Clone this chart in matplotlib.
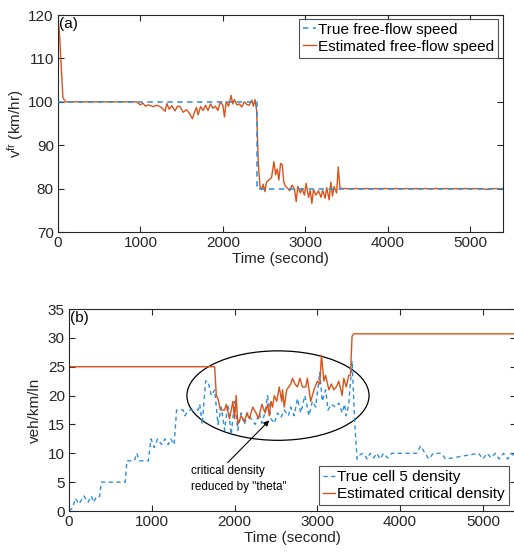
import matplotlib
matplotlib.use("Agg")
import matplotlib.pyplot as plt
from matplotlib.patches import Ellipse

plt.rcParams['font.family'] = ['Liberation Sans', 'DejaVu Sans']
plt.rcParams['mathtext.fontset'] = 'custom'
plt.rcParams['mathtext.rm'] = 'Liberation Sans'
plt.rcParams['mathtext.it'] = 'Liberation Sans'

# ---------------- Panel (a) data ----------------
true_vf_t = [0, 2420, 2420, 5400]
true_vf = [100, 100, 80, 80]

est_vf_t = [0, 20, 40, 60, 90, 150, 400, 700, 950, 1000, 1030, 1060, 1100, 1150, 1200, 1250,
            1300, 1320, 1350, 1380, 1420, 1450, 1480, 1520, 1560, 1600, 1630, 1660, 1680,
            1700, 1730, 1760, 1790, 1820, 1850, 1880, 1910, 1940, 1970, 2000, 2020, 2040,
            2070, 2100, 2120, 2140, 2170, 2200, 2230, 2260, 2290, 2320, 2350, 2370, 2390,
            2410, 2430, 2450, 2470, 2490, 2510, 2530, 2560, 2590, 2620, 2640, 2660, 2680,
            2700, 2720, 2740, 2760, 2790, 2810, 2840, 2870, 2890, 2910, 2940, 2960, 2990,
            3010, 3040, 3060, 3080, 3100, 3130, 3160, 3190, 3210, 3240, 3260, 3290, 3310,
            3330, 3350, 3380, 3400, 3420, 3450, 3500, 4500, 5150, 5200, 5250, 5400]
est_vf = [120, 115, 108, 101, 100, 100, 100, 100, 100, 99.3, 99.7, 99.0, 99.3, 98.9, 99.2, 98.8,
          97.8, 99.6, 98.3, 99.1, 97.9, 99.0, 98.9, 97.6, 98.2, 97.2, 96.1, 97.8, 98.7,
          97.0, 98.9, 98.0, 99.2, 98.0, 99.5, 98.5, 99.0, 98.0, 100.0, 99.2, 96.5, 100.0,
          99.0, 101.5, 99.5, 100.5, 99.3, 99.5, 98.8, 100.0, 99.4, 99.2, 100.4, 99.0, 100.5,
          98.0, 86.0, 80.5, 79.8, 81.0, 79.3, 81.5, 82.0, 82.5, 86.2, 83.2, 84.5, 82.0,
          85.8, 85.5, 81.5, 80.5, 80.0, 79.5, 80.8, 79.8, 77.0, 80.5, 79.0, 80.0, 78.5,
          81.2, 78.0, 79.6, 76.6, 79.8, 78.5, 79.5, 78.0, 79.6, 77.8, 80.2, 77.4, 81.5,
          78.3, 80.5, 79.0, 85.0, 80.2, 80.0, 80.0, 80.0, 80.0, 79.8, 80.0, 80.0]

# ---------------- Panel (b) data ----------------
true_k_t = [0, 40, 80, 120, 180, 230, 270, 300, 330, 370, 390, 680, 700, 790, 820, 850, 960,
            990, 1030, 1070, 1120, 1160, 1200, 1230, 1270, 1300, 1380, 1400, 1450, 1560,
            1580, 1610, 1650, 1680, 1720, 1760, 1800, 1840, 1880, 1920, 1960, 2000, 2040,
            2080, 2120, 2160, 2200, 2250, 2300, 2330, 2370, 2400, 2440, 2480, 2520, 2560,
            2600, 2650, 2680, 2720, 2760, 2800, 2850, 2900, 2940, 2980, 3030, 3060, 3100,
            3130, 3170, 3220, 3260, 3300, 3330, 3350, 3380, 3420, 3450, 3480, 3520, 3560,
            3600, 3640, 3680, 3720, 3760, 3800, 3850, 3900, 4000, 4100, 4200, 4250, 4300,
            4350, 4400, 4500, 4550, 4950, 5000, 5050, 5100, 5150, 5200, 5250, 5300, 5350, 5400]
true_k = [0, 0.5, 2.2, 1.2, 2.6, 1.5, 2.6, 1.5, 2.5, 2.5, 5.0, 5.0, 8.7, 8.7, 10.0, 8.7, 8.7,
          12.5, 11.0, 12.5, 11.5, 12.5, 11.5, 12.5, 11.5, 17.5, 17.5, 16.5, 17.5, 17.5,
          18.5, 15.0, 22.5, 22.5, 20.0, 21.0, 15.0, 18.0, 14.0, 18.5, 13.2, 19.0, 14.0,
          17.0, 15.0, 17.0, 16.0, 15.0, 17.0, 15.2, 17.2, 20.0, 16.0, 15.2, 17.0, 16.2,
          17.5, 16.5, 18.0, 16.5, 19.5, 17.0, 20.0, 16.5, 19.0, 18.0, 24.0, 19.0, 21.0,
          17.5, 18.5, 18.0, 18.7, 17.0, 18.5, 16.5, 18.5, 26.0, 16.0, 9.0, 9.8, 10.0,
          9.0, 10.0, 9.2, 10.0, 9.0, 10.0, 9.2, 10.0, 10.0, 10.0, 10.0, 11.3, 10.0,
          9.0, 10.0, 10.0, 9.0, 10.0, 9.0, 10.0, 9.2, 10.0, 9.0, 10.0, 9.0, 10.0, 9.0]

est_kc_t = [0, 1760, 1780, 1800, 1830, 1880, 1900, 1940, 1980, 2000, 2020, 2040, 2080, 2120,
            2150, 2180, 2220, 2260, 2290, 2330, 2370, 2400, 2420, 2440, 2460, 2480, 2510,
            2540, 2570, 2580, 2600, 2630, 2680, 2700, 2730, 2760, 2790, 2820, 2860, 2880,
            2920, 2960, 3000, 3030, 3050, 3080, 3100, 3140, 3170, 3200, 3230, 3260, 3300,
            3320, 3350, 3380, 3400, 3420, 3440, 5400]
est_kc = [25.0, 25.0, 20.0, 19.5, 17.5, 17.5, 18.5, 16.0, 19.0, 16.0, 20.0, 15.0, 16.5, 15.5,
          17.0, 16.0, 18.0, 17.0, 16.0, 18.5, 17.0, 18.5, 16.5, 19.0, 18.0, 20.0, 19.0,
          21.5, 19.0, 21.0, 18.0, 21.0, 22.0, 23.0, 22.0, 21.5, 23.0, 21.5, 21.5, 23.0,
          19.0, 21.0, 22.5, 22.0, 27.0, 22.5, 23.5, 21.0, 22.0, 21.0, 21.5, 22.5, 20.0,
          23.0, 21.5, 23.5, 23.5, 30.3, 30.7, 30.7]

blue = '#2F8FD6'
orange = '#D95319'

fig = plt.figure(figsize=(5.14, 5.54), dpi=100)

def style(ax):
    ax.tick_params(direction='in', top=True, right=True, length=4, width=0.8,
                   labelsize=11, colors='#262626', pad=3)
    for s in ax.spines.values():
        s.set_linewidth(0.8)
        s.set_color('#262626')

# ---- (a) ----
ax1 = fig.add_axes([0.1128, 0.5812, 0.866, 0.3917])
ax1.plot(est_vf_t, est_vf, color=orange, lw=1.0, label='Estimated free-flow speed', zorder=2)
ax1.plot(true_vf_t, true_vf, color=blue, lw=1.3, ls=(0, (3, 2.5)), label='True free-flow speed',
         zorder=3, alpha=0.85)
ax1.set_xlim(0, 5400)
ax1.set_ylim(70, 120)
ax1.set_xticks([0, 1000, 2000, 3000, 4000, 5000])
ax1.set_yticks([70, 80, 90, 100, 110, 120])
ax1.set_xlabel('Time (second)', fontsize=11, color='#262626', labelpad=1)
ax1.set_ylabel(r'v$^{\mathrm{fr}}$ (km/hr)', fontsize=11, color='#262626', labelpad=2)
ax1.text(0.003, 0.99, '(a)', transform=ax1.transAxes, fontsize=11, va='top', ha='left')
style(ax1)
h, l = ax1.get_legend_handles_labels()
leg1 = ax1.legend(h[::-1], l[::-1], loc='upper right', fontsize=11, frameon=True, fancybox=False,
                  edgecolor='#262626', handlelength=0.8, handletextpad=0.15, borderpad=0.25,
                  labelspacing=0.2, borderaxespad=0, bbox_to_anchor=(0.988, 0.982))
leg1.get_frame().set_linewidth(0.8)

# ---- (b) ----
ax2 = fig.add_axes([0.1342, 0.0776, 0.8696, 0.3646])
ax2.plot(true_k_t, true_k, color=blue, lw=1.0, ls=(0, (3, 2.5)), label='True cell 5 density')
ax2.plot(est_kc_t, est_kc, color=orange, lw=1.0, label='Estimated critical density')
ax2.set_xlim(0, 5400)
ax2.set_ylim(0, 35)
ax2.set_xticks([0, 1000, 2000, 3000, 4000, 5000])
ax2.set_yticks([0, 5, 10, 15, 20, 25, 30, 35])
ax2.set_xlabel('Time (second)', fontsize=11, color='#262626', labelpad=1)
ax2.set_ylabel('veh/km/ln', fontsize=11, color='#262626', labelpad=4)
ax2.text(0.003, 0.99, '(b)', transform=ax2.transAxes, fontsize=11, va='top', ha='left')
style(ax2)
ax2.add_patch(Ellipse((2525, 20.0), 2200, 15.5, fill=False, edgecolor='black', lw=0.9))
ax2.annotate('critical density\nreduced by "theta"', xy=(2420, 15.7), xytext=(1480, 7.9),
             fontsize=8.5, va='top', ha='left', linespacing=1.4,
             arrowprops=dict(arrowstyle='-|>', color='black', lw=0.8, mutation_scale=8,
                             shrinkA=0, shrinkB=0, relpos=(0.35, 1.0)))
leg2 = ax2.legend(loc='lower right', fontsize=11, frameon=True, fancybox=False,
                  edgecolor='#262626', handlelength=0.8, handletextpad=0.15, borderpad=0.25,
                  labelspacing=0.2, borderaxespad=0, bbox_to_anchor=(0.984, 0.03))
leg2.get_frame().set_linewidth(0.8)

fig.savefig('out.png', dpi=100)
